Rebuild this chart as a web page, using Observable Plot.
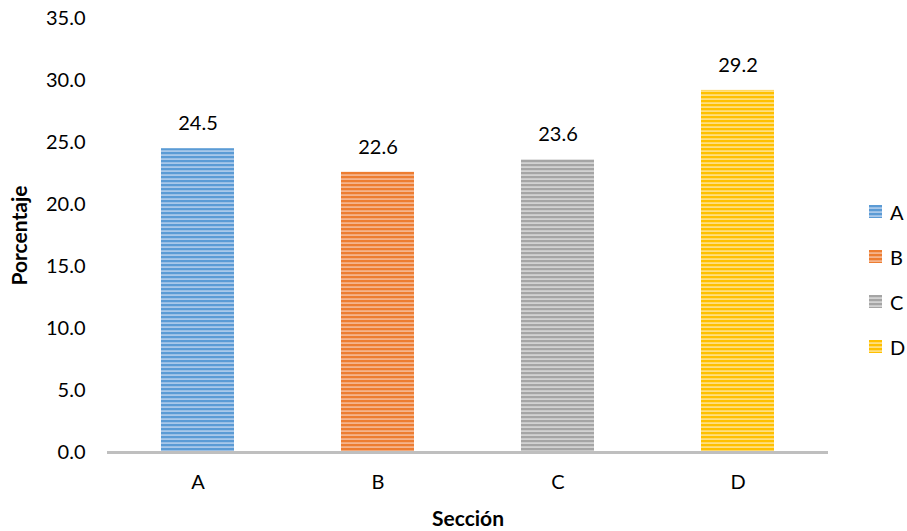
<!DOCTYPE html>
<html>
<head>
<meta charset="utf-8">
<script src="https://cdn.jsdelivr.net/npm/d3@7"></script>
<script src="https://cdn.jsdelivr.net/npm/@observablehq/plot@0.6"></script>
<style>
  body { margin: 0; background: #fff; }
  #wrap { position: relative; width: 907px; height: 531px; font-family: Lato, "Open Sans", sans-serif; }
  #legend { position: absolute; left: 869px; top: 201px; font-size: 20px; color: #000; }
  .li { display: flex; align-items: center; height: 21px; margin-bottom: 24px; }
  .sw { width: 13px; height: 13px; margin-right: 8px; }
</style>
</head>
<body>
<div id="wrap"><div id="legend"></div></div>
<script>
const secciones = ["A", "B", "C", "D"];
const porcentajes = [24.5, 22.6, 23.6, 29.2];
const yTicks = [0, 5, 10, 15, 20, 25, 30, 35];
const baseColors = ["#5b9bd5", "#ed7d31", "#a5a5a5", "#ffc000"];
const lightColors = ["#a9c8ea", "#f5b48c", "#d2d2d2", "#ffdf80"];

const data = secciones.map((s, i) => ({ sec: s, val: porcentajes[i] }));

const font = 'Lato, "Open Sans", sans-serif';

const chart = Plot.plot({
  width: 907,
  height: 531,
  marginLeft: 107,
  marginRight: 79,
  marginTop: 18,
  marginBottom: 79,
  style: { fontFamily: font, fontSize: "20px", color: "#000", background: "#fff" },
  x: { domain: secciones, paddingInner: 0.595, paddingOuter: 0.2975, label: null },
  y: { domain: [0, 35], label: null },
  color: { domain: secciones, range: secciones.map(s => `url(#pat-${s})`) },
  marks: [
    Plot.barY(data, { x: "sec", y: "val", fill: "sec" }),
    Plot.ruleY([0], { stroke: "#bfbfbf", strokeWidth: 3 }),
    Plot.axisY({ ticks: yTicks, tickFormat: d3.format(".1f"), tickSize: 0, tickPadding: 22, label: null, fontSize: 20 }),
    Plot.axisX({ tickSize: 0, tickPadding: 22, label: null, fontSize: 20 }),
    Plot.text(data, { x: "sec", y: "val", text: d => d3.format(".1f")(d.val), dy: -25, lineAnchor: "middle", fontSize: 20, fill: "#000" }),
    Plot.text(["Sección"], { frameAnchor: "bottom", dy: 67, lineAnchor: "middle", fontWeight: "bold", fontSize: 21, fill: "#000" }),
    Plot.text(["Porcentaje"], { frameAnchor: "left", dx: -87, rotate: -90, lineAnchor: "middle", textAnchor: "middle", fontWeight: "bold", fontSize: 21, fill: "#000" })
  ]
});

// striped patterns
const svg = d3.select(chart);
const defs = svg.insert("defs", ":first-child");
secciones.forEach((s, i) => {
  const p = defs.append("pattern")
    .attr("id", `pat-${s}`)
    .attr("patternUnits", "userSpaceOnUse")
    .attr("width", 8).attr("height", 4);
  p.append("rect").attr("width", 8).attr("height", 4).attr("fill", lightColors[i]);
  p.append("rect").attr("width", 8).attr("height", 2.2).attr("fill", baseColors[i]);
});

document.getElementById("wrap").prepend(chart);

// legend
const leg = document.getElementById("legend");
secciones.forEach((s, i) => {
  const row = document.createElement("div");
  row.className = "li";
  row.innerHTML = `<svg class="sw" width="13" height="13"><defs><pattern id="lp-${s}" patternUnits="userSpaceOnUse" width="13" height="4"><rect width="13" height="4" fill="${lightColors[i]}"/><rect width="13" height="2.2" fill="${baseColors[i]}"/></pattern></defs><rect width="13" height="13" fill="url(#lp-${s})"/></svg><span>${s}</span>`;
  leg.appendChild(row);
});
</script>
</body>
</html>
